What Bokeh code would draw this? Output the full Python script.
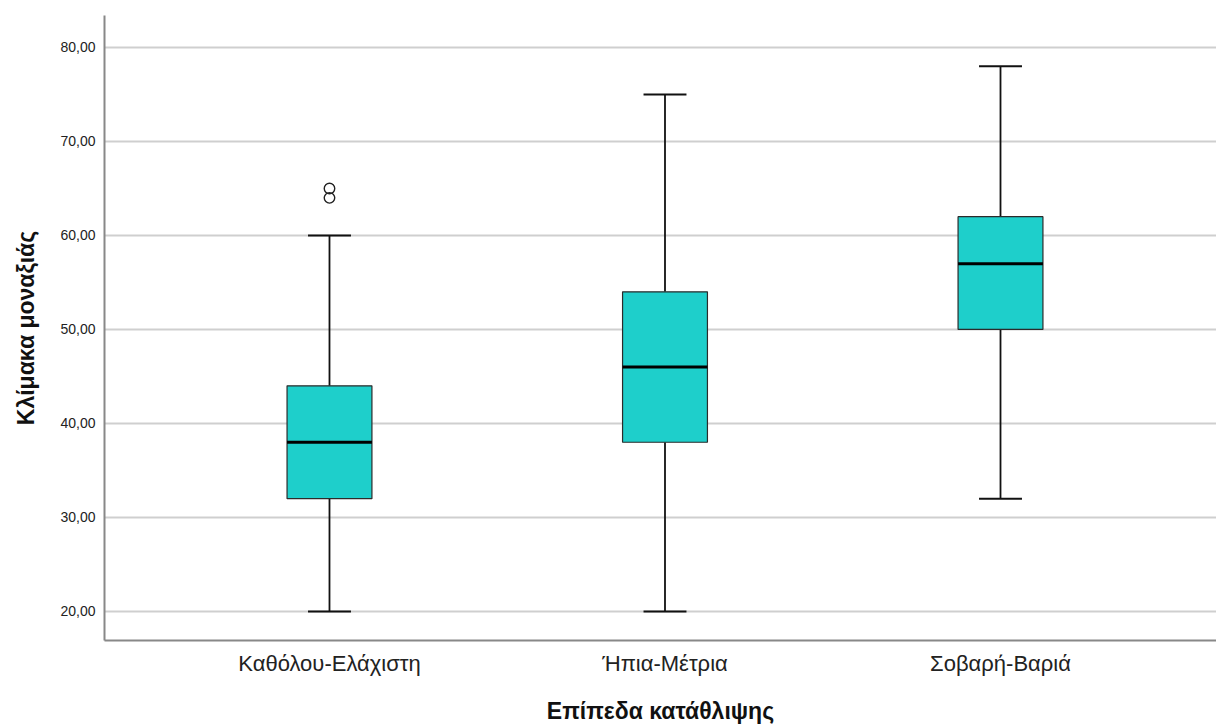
from bokeh.plotting import figure
from bokeh.models import Range1d, FixedTicker, ColumnDataSource
from bokeh.embed import file_html
from bokeh.resources import INLINE

# ---- data ----
categories = ["Καθόλου-Ελάχιστη", "Ήπια-Μέτρια", "Σοβαρή-Βαριά"]
whisker_low = [20, 20, 32]
q1 = [32, 38, 50]
median = [38, 46, 57]
q3 = [44, 54, 62]
whisker_high = [60, 75, 78]
outlier_group = [0, 0]
outlier_value = [64, 65]
y_ticks = [20, 30, 40, 50, 60, 70, 80]
y_tick_labels = ["20,00", "30,00", "40,00", "50,00", "60,00", "70,00", "80,00"]
x_title = "Επίπεδα κατάθλιψης"
y_title = "Κλίμακα μοναξιάς"

# ---- layout/style ----
FONT = "Liberation Sans"
BOX_W = 0.253
CAP_W = 0.128
xs = [i + 1 for i in range(len(categories))]

src = ColumnDataSource(dict(
    x=xs,
    lo=whisker_low, q1=q1, med=median, q3=q3, hi=whisker_high,
    bl=[x - BOX_W / 2 for x in xs], br=[x + BOX_W / 2 for x in xs],
    cl=[x - CAP_W / 2 for x in xs], cr=[x + CAP_W / 2 for x in xs],
))
out_src = ColumnDataSource(dict(x=[xs[g] for g in outlier_group], y=outlier_value))

p = figure(width=1216, height=726, output_backend="svg", toolbar_location=None,
           x_range=Range1d(0.3294, 3.6438), y_range=Range1d(16.91, 83.40),
           min_border_left=104, min_border_right=0, min_border_top=15, min_border_bottom=84)
p.outline_line_color = None
p.background_fill_color = "white"
p.border_fill_color = "white"

# grids
p.xgrid.visible = False
p.ygrid.ticker = FixedTicker(ticks=y_ticks)
p.ygrid.grid_line_color = "#cfcfcf"
p.ygrid.grid_line_width = 2

# whiskers
p.segment(x0="x", y0="q3", x1="x", y1="hi", source=src, line_color="#111111", line_width=1.8)
p.segment(x0="x", y0="lo", x1="x", y1="q1", source=src, line_color="#111111", line_width=1.8)
p.segment(x0="cl", y0="hi", x1="cr", y1="hi", source=src, line_color="#111111", line_width=2)
p.segment(x0="cl", y0="lo", x1="cr", y1="lo", source=src, line_color="#111111", line_width=2)

# boxes
p.vbar(x="x", width=BOX_W, bottom="q1", top="q3", source=src,
       fill_color="#1ecfcb", line_color="#2b2b2b", line_width=1.2)
p.segment(x0="bl", y0="med", x1="br", y1="med", source=src, line_color="black", line_width=3)

# outliers
p.scatter(x="x", y="y", source=out_src, marker="circle", size=10.5,
          fill_color=None, line_color="#222222", line_width=1.4)

# axes
xa = p.xaxis[0]
xa.ticker = FixedTicker(ticks=xs)
xa.major_label_overrides = {x: c for x, c in zip(xs, categories)}
xa.axis_label = x_title
xa.axis_label_text_font = FONT
xa.axis_label_text_font_style = "bold"
xa.axis_label_text_font_size = "23px"
xa.axis_label_text_color = "#111111"
xa.axis_label_standoff = 19
xa.major_label_text_font = FONT
xa.major_label_text_font_size = "22px"
xa.major_label_text_color = "#222222"
xa.major_label_standoff = 10
xa.major_tick_in = 0
xa.major_tick_out = 0
xa.minor_tick_in = 0
xa.minor_tick_out = 0
xa.axis_line_color = "#888888"
xa.axis_line_width = 2

ya = p.yaxis[0]
ya.ticker = FixedTicker(ticks=y_ticks)
ya.major_label_overrides = {t: l for t, l in zip(y_ticks, y_tick_labels)}
ya.axis_label = y_title
ya.axis_label_text_font = FONT
ya.axis_label_text_font_style = "bold"
ya.axis_label_text_font_size = "23px"
ya.axis_label_text_color = "#111111"
ya.axis_label_standoff = 18
ya.major_label_text_font = FONT
ya.major_label_text_font_size = "14px"
ya.major_label_text_color = "#222222"
ya.major_label_standoff = 9
ya.major_tick_in = 0
ya.major_tick_out = 0
ya.minor_tick_in = 0
ya.minor_tick_out = 0
ya.axis_line_color = "#888888"
ya.axis_line_width = 2

open("out.html", "w").write(file_html(p, INLINE))
